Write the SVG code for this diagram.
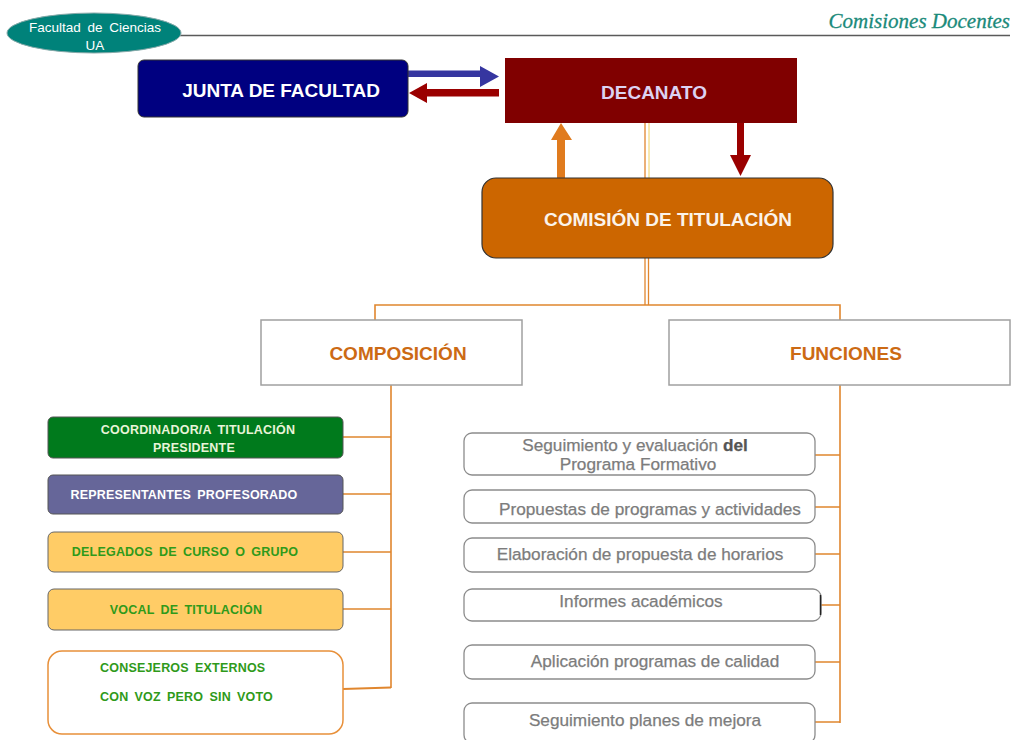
<svg xmlns="http://www.w3.org/2000/svg" width="1012" height="740" viewBox="0 0 1012 740">
<style>
.sans{font-family:"Liberation Sans",Arial,sans-serif}
.big{font-size:19px;font-weight:bold;text-anchor:middle}
.hdr{font-size:19px;font-weight:bold;text-anchor:middle;fill:#cc6a14}
.lbl{font-size:12.5px;font-weight:bold;text-anchor:middle;word-spacing:2.5px;letter-spacing:0.2px}
.lbls{font-size:12.5px;font-weight:bold;text-anchor:start;word-spacing:2.5px;letter-spacing:0.2px}
.fn{font-size:17.2px;text-anchor:middle;fill:#7c7c7c;stroke:#7c7c7c;stroke-width:0.25}
.fbox{fill:#fff;stroke:#8c8c8c;stroke-width:1.3}
.conn{fill:none;stroke:#e0862e;stroke-width:1.6}
</style>
<rect width="1012" height="740" fill="#fff"/>
<g id="header">
<line x1="180" y1="35.5" x2="1010" y2="35.5" stroke="#5a5a5a" stroke-width="1.5"/>
<ellipse cx="94" cy="33" rx="87" ry="20" fill="#00827a" stroke="#8aa" stroke-width="1"/>
<text class="sans" x="95" y="32" font-size="13.5" fill="#fff" text-anchor="middle" word-spacing="3">Facultad de Ciencias</text>
<text class="sans" x="95" y="50" font-size="13.5" fill="#fff" text-anchor="middle">UA</text>
<text x="1010" y="28" font-family="'Liberation Serif',serif" font-style="italic" font-size="21" fill="#1a8a7a" stroke="#1a8a7a" stroke-width="0.3" text-anchor="end">Comisiones Docentes</text>
</g>
<g id="connectors">
<path d="M408,70.5 H480 V66 L499,76.5 L480,87 V77 H408 Z" fill="#3636a0"/>
<path d="M499,89 H427 V83 L409,93 L427,103 V96.5 H499 Z" fill="#9a0000"/>
<path d="M557,178 V140 H551 L561,123 L572,140 H565 V178 Z" fill="#e07b1e"/>
<path d="M737,123 V155 H730 L740.5,176 L751,155 H744 V123 Z" fill="#9a0000"/>
<line x1="645" y1="123" x2="645" y2="178" stroke="#e0862e" stroke-width="1.3"/>
<line x1="649" y1="123" x2="649" y2="178" stroke="#f0d060" stroke-width="1"/>
<line x1="645" y1="258" x2="645" y2="305" stroke="#e0862e" stroke-width="1.3"/>
<line x1="648.5" y1="258" x2="648.5" y2="305" stroke="#e0862e" stroke-width="1.3"/>
<path class="conn" d="M375,320 V305 H840 V320"/>
<path class="conn" d="M391,385 V688 M343,437 H391 M343,494 H391 M343,552 H391 M343,609 H391"/>
<path d="M343,689 L391,687.5" stroke="#e0862e" stroke-width="2.2" fill="none"/>
<path class="conn" d="M840,385 V723 M815,455 H840 M815,507 H840 M815,554 H840 M821,605 H840 M815,662 H840 M815,722 H840"/>
</g>
<g id="junta">
<rect x="138" y="60" width="270" height="57" rx="6" fill="#000080" stroke="#333" stroke-width="1"/>
<text class="sans big" x="281" y="97" fill="#fff">JUNTA DE FACULTAD</text>
</g>
<g id="decanato">
<rect x="505" y="58" width="292" height="65" fill="#800000"/>
<text class="sans big" x="654" y="99" fill="#dcd2f2">DECANATO</text>
</g>
<g id="comision">
<rect x="482" y="178" width="351" height="80" rx="14" fill="#cc6600" stroke="#333" stroke-width="1.2"/>
<text class="sans big" x="668" y="226" fill="#fbf3ea">COMISIÓN DE TITULACIÓN</text>
</g>
<g id="composicion">
<rect x="261" y="320" width="261" height="65" fill="#fff" stroke="#a0a0a0" stroke-width="1.5"/>
<text class="sans hdr" x="398" y="360">COMPOSICIÓN</text>
</g>
<g id="funciones">
<rect x="669" y="320" width="341" height="65" fill="#fff" stroke="#a0a0a0" stroke-width="1.5"/>
<text class="sans hdr" x="846" y="360">FUNCIONES</text>
</g>
<g id="coordinador">
<rect x="48" y="417" width="295" height="41" rx="5" fill="#007a1c" stroke="#555" stroke-width="1"/>
<text class="sans lbl" x="198" y="434" fill="#e8f4d8">COORDINADOR/A TITULACIÓN</text>
<text class="sans lbl" x="194" y="452" fill="#e8f4d8">PRESIDENTE</text>
</g>
<g id="representantes">
<rect x="48" y="475" width="295" height="39" rx="5" fill="#666699" stroke="#555" stroke-width="1"/>
<text class="sans lbl" x="184" y="499" fill="#fff">REPRESENTANTES PROFESORADO</text>
</g>
<g id="delegados">
<rect x="48" y="532" width="295" height="40" rx="6" fill="#ffcc66" stroke="#666" stroke-width="1"/>
<text class="sans lbl" x="185" y="556" fill="#2f9a1a">DELEGADOS DE CURSO O GRUPO</text>
</g>
<g id="vocal">
<rect x="48" y="589" width="295" height="41" rx="6" fill="#ffcc66" stroke="#666" stroke-width="1"/>
<text class="sans lbl" x="186" y="614" fill="#2f9a1a">VOCAL DE TITULACIÓN</text>
</g>
<g id="consejeros">
<rect x="48" y="651" width="295" height="83" rx="14" fill="#fff" stroke="#e8903a" stroke-width="1.5"/>
<text class="sans lbls" x="100" y="672" fill="#2f9a1a">CONSEJEROS EXTERNOS</text>
<text class="sans lbls" x="100" y="701" fill="#2f9a1a">CON VOZ PERO SIN VOTO</text>
</g>
<g id="f1">
<rect class="fbox" x="464" y="433" width="351" height="42" rx="8"/>
<text class="sans fn" x="635" y="451">Seguimiento y evaluación <tspan fill="#555" stroke="#555" font-weight="bold">del</tspan></text>
<text class="sans fn" x="638" y="470">Programa Formativo</text>
</g>
<g id="f2">
<rect class="fbox" x="464" y="490" width="351" height="33" rx="8"/>
<text class="sans fn" x="650" y="515">Propuestas de programas y actividades</text>
</g>
<g id="f3">
<rect class="fbox" x="464" y="538" width="351" height="34" rx="8"/>
<text class="sans fn" x="640" y="560">Elaboración de propuesta de horarios</text>
</g>
<g id="f4">
<rect class="fbox" x="464" y="589" width="357" height="32" rx="8"/>
<line x1="820.5" y1="595" x2="820.5" y2="615" stroke="#222" stroke-width="1.5"/>
<text class="sans fn" x="641" y="607">Informes académicos</text>
</g>
<g id="f5">
<rect class="fbox" x="464" y="645" width="351" height="34" rx="8"/>
<text class="sans fn" x="655" y="667">Aplicación programas de calidad</text>
</g>
<g id="f6">
<rect class="fbox" x="464" y="703" width="351" height="40" rx="8"/>
<text class="sans fn" x="645" y="726">Seguimiento planes de mejora</text>
</g>
</svg>
